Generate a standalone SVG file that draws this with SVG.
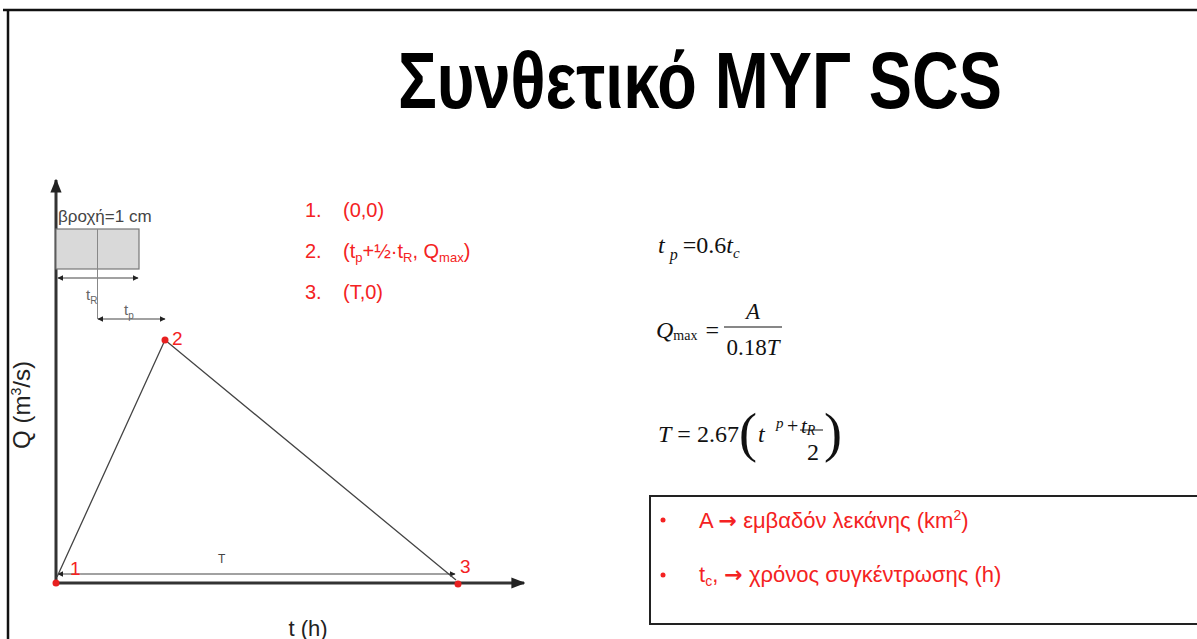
<svg xmlns="http://www.w3.org/2000/svg" width="1197" height="639" viewBox="0 0 1197 639">
<style>
.sans{font-family:"Liberation Sans",Arial,sans-serif}
.red{fill:#f42222}
.serif{font-family:"Liberation Serif","Times New Roman",serif;fill:#111}
.gray{fill:#444}
.axis{stroke:#333;stroke-width:3;fill:none}
.thin{stroke:#444;stroke-width:1.2;fill:none}
.arr{font-family:"DejaVu Sans",sans-serif;font-weight:bold}
</style>
<defs>
<marker id="ah" viewBox="0 0 10 10" refX="9" refY="5" markerWidth="6" markerHeight="6" orient="auto-start-reverse" markerUnits="userSpaceOnUse"><path d="M0,0 L10,5 L0,10 z" fill="#222"/></marker>
<marker id="big" viewBox="0 0 10 10" refX="9" refY="5" markerWidth="14" markerHeight="14" orient="auto" markerUnits="userSpaceOnUse"><path d="M0,1 L10,5 L0,9 z" fill="#222"/></marker>
</defs>
<rect width="1197" height="639" fill="#fff"/>
<!-- frame -->
<path d="M3,10 H1197 M8,10 V639" stroke="#111" stroke-width="2.5" fill="none"/>
<g id="title"><text x="398" y="108" class="sans" font-size="80" font-weight="bold" textLength="604" lengthAdjust="spacingAndGlyphs">Συνθετικό ΜΥΓ SCS</text></g>
<g id="connectors">
<line class="axis" x1="56" y1="583" x2="56" y2="180" marker-end="url(#big)"/>
<line class="axis" x1="56" y1="583" x2="524" y2="583" marker-end="url(#big)"/>
<line class="thin" x1="58" y1="574" x2="455" y2="574" marker-start="url(#ah)" marker-end="url(#ah)"/>
<polyline points="57,577 165,340 456,580" fill="none" stroke="#444" stroke-width="1.3"/>
<line class="thin" x1="58" y1="278" x2="138" y2="278" marker-start="url(#ah)" marker-end="url(#ah)"/>
<line class="thin" x1="98" y1="319" x2="165" y2="319" marker-start="url(#ah)" marker-end="url(#ah)"/>
</g>
<g id="rain">
<rect x="56" y="229" width="83" height="40" fill="#d9d9d9" stroke="#777" stroke-width="1.2"/>
<line x1="97.5" y1="229" x2="97.5" y2="319" stroke="#888" stroke-width="1"/>
<text x="58" y="222" class="sans gray" font-size="17">βροχή=1 cm</text>
<text x="86" y="300" class="sans" fill="#666" font-size="15">t<tspan font-size="10" dy="4">R</tspan></text>
<text x="124" y="315" class="sans" fill="#666" font-size="15">t<tspan font-size="10" dy="4">p</tspan></text>
<text x="218" y="563" class="sans gray" font-size="12">T</text>
</g>
<g id="points">
<circle cx="56" cy="583" r="3.5" fill="#e82020"/>
<circle cx="165" cy="340" r="3.5" fill="#e82020"/>
<circle cx="458" cy="584" r="3.5" fill="#e82020"/>
<text x="70" y="575" class="sans red" font-size="19">1</text>
<text x="172" y="345" class="sans red" font-size="19">2</text>
<text x="460" y="573" class="sans red" font-size="19">3</text>
</g>
<g id="labels">
<text transform="translate(30,405) rotate(-90)" text-anchor="middle" class="sans" fill="#222" font-size="24">Q (m<tspan font-size="14" dy="-9">3</tspan><tspan dy="9">/s)</tspan></text>
<text x="308" y="636" text-anchor="middle" class="sans" fill="#222" font-size="22">t (h)</text>
</g>
<g id="list" class="sans red" font-size="20">
<text x="305" y="217">1.</text><text x="343" y="217">(0,0)</text>
<text x="305" y="258">2.</text><text x="343" y="258">(t<tspan font-size="13" dy="4">p</tspan><tspan dy="-4">+½·t</tspan><tspan font-size="13" dy="4">R</tspan><tspan dy="-4">, Q</tspan><tspan font-size="13" dy="4">max</tspan><tspan dy="-4">)</tspan></text>
<text x="305" y="299">3.</text><text x="343" y="299">(T,0)</text>
</g>
<g id="eq1"><text x="658" y="253" class="serif" font-size="24"><tspan font-style="italic">t</tspan><tspan font-style="italic" font-size="16" dx="5" dy="7">p</tspan><tspan dx="5" dy="-7">=0.6</tspan><tspan font-style="italic">t</tspan><tspan font-style="italic" font-size="15" dy="5">c</tspan></text></g>
<g id="eq2">
<text x="656" y="338" class="serif" font-size="24"><tspan font-style="italic">Q</tspan><tspan font-size="14" dy="2">max</tspan><tspan dx="8" dy="-2">=</tspan></text>
<line x1="724" y1="327" x2="782" y2="327" stroke="#111" stroke-width="1.2"/>
<text x="753" y="319" text-anchor="middle" class="serif" font-size="23" font-style="italic">A</text>
<text x="753" y="355" text-anchor="middle" class="serif" font-size="23">0.18<tspan font-style="italic">T</tspan></text>
</g>
<g id="eq3">
<text x="658" y="442" class="serif" font-size="24"><tspan font-style="italic">T</tspan> = 2.67</text>
<text x="739" y="451" class="serif" font-size="54">(</text>
<text x="824" y="451" class="serif" font-size="54">)</text>
<text x="758" y="442" class="serif" font-size="24" font-style="italic">t</text>
<text x="776" y="428" class="serif" font-size="15" font-style="italic">p</text>
<text x="787" y="433" class="serif" font-size="20">+</text>
<text x="801" y="433" class="serif" font-size="21" font-style="italic">t<tspan font-size="14" dy="2">R</tspan></text>
<line x1="800" y1="430" x2="823" y2="430" stroke="#111" stroke-width="1"/>
<text x="807" y="460" class="serif" font-size="24">2</text>
</g>
<g id="legend">
<rect x="650" y="496" width="560" height="128" fill="none" stroke="#222" stroke-width="2"/>
<circle cx="663" cy="520" r="2.5" fill="#f42222"/>
<circle cx="663" cy="575" r="2.5" fill="#f42222"/>
<text x="699" y="528" class="sans red" font-size="22">A <tspan class="arr">→</tspan>  εμβαδόν λεκάνης (km<tspan font-size="14" dy="-8">2</tspan><tspan dy="8">)</tspan></text>
<text x="699" y="582" class="sans red" font-size="22">t<tspan font-size="14" dy="4">c</tspan><tspan dy="-4">, </tspan><tspan class="arr">→</tspan> χρόνος συγκέντρωσης (h)</text>
</g>
</svg>
